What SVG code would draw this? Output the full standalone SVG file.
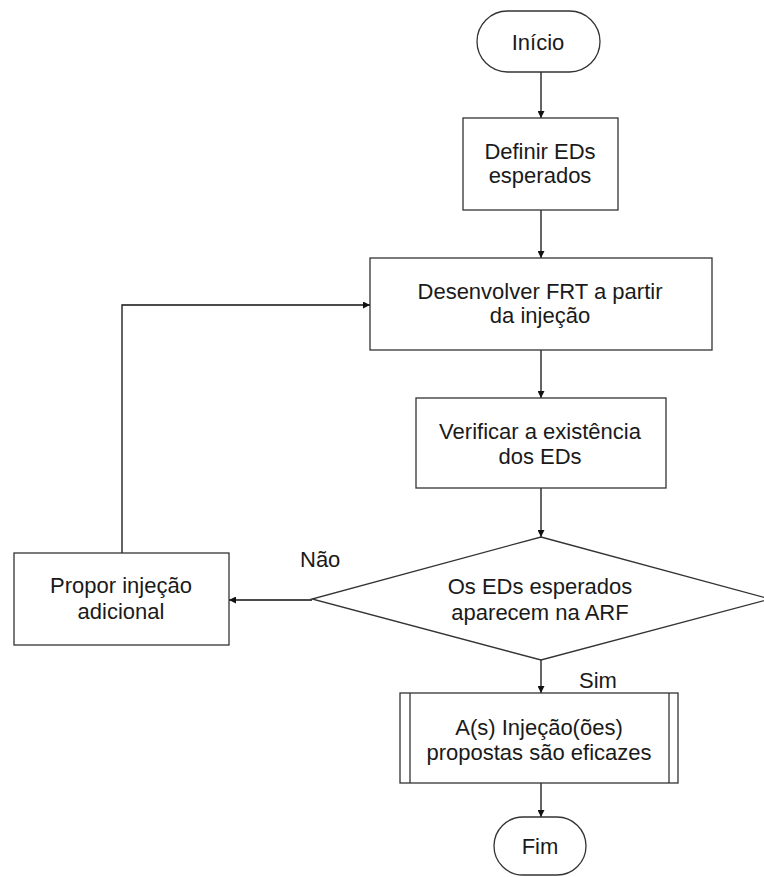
<svg xmlns="http://www.w3.org/2000/svg" width="764" height="877" viewBox="0 0 764 877">
  <defs>
    <marker id="arrow" viewBox="0 0 10 10" refX="10" refY="5" markerWidth="7" markerHeight="7" markerUnits="userSpaceOnUse" orient="auto">
      <path d="M0,0 L10,5 L0,10 z" fill="#111"/>
    </marker>
    <style>
      .shape { fill: #fff; stroke: #333; stroke-width: 1.3; }
      .edge { fill: none; stroke: #111; stroke-width: 1.3; marker-end: url(#arrow); }
      .label { font-family: "Liberation Sans", Arial, sans-serif; font-size: 22px; fill: #1a1a1a; text-anchor: middle; }
      .tag { font-family: "Liberation Sans", Arial, sans-serif; font-size: 22px; fill: #1a1a1a; }
    </style>
  </defs>

  <rect width="764" height="877" fill="#fff"/>

  <!-- connectors -->
  <g id="connectors">
    <line class="edge" x1="541" y1="72" x2="541" y2="118"/>
    <line class="edge" x1="541" y1="210" x2="541" y2="258"/>
    <line class="edge" x1="541" y1="350" x2="541" y2="398"/>
    <line class="edge" x1="541" y1="488" x2="541" y2="537"/>
    <line class="edge" x1="312" y1="600" x2="229" y2="600"/>
    <polyline class="edge" points="122,553 122,305 370,305"/>
    <line class="edge" x1="541" y1="660" x2="541" y2="693"/>
    <line class="edge" x1="541" y1="783" x2="541" y2="817"/>
    <text class="tag" x="300" y="567">Não</text>
    <text class="tag" x="579" y="688">Sim</text>
  </g>

  <g id="inicio">
    <rect class="shape" x="477" y="11" width="123" height="61" rx="30.5" ry="30.5"/>
    <text class="label" x="538" y="50">Início</text>
  </g>

  <g id="definir">
    <rect class="shape" x="463" y="118" width="155" height="92"/>
    <text class="label" x="540" y="159">Definir EDs</text>
    <text class="label" x="540" y="183">esperados</text>
  </g>

  <g id="desenvolver">
    <rect class="shape" x="370" y="258" width="342" height="92"/>
    <text class="label" x="540" y="299">Desenvolver FRT a partir</text>
    <text class="label" x="540" y="323">da injeção</text>
  </g>

  <g id="verificar">
    <rect class="shape" x="416" y="398" width="250" height="90"/>
    <text class="label" x="540" y="439">Verificar a existência</text>
    <text class="label" x="540" y="464">dos EDs</text>
  </g>

  <g id="decisao">
    <polygon class="shape" points="541,537 770,599 541,660 312,599"/>
    <text class="label" x="540" y="594">Os EDs esperados</text>
    <text class="label" x="540" y="620">aparecem na ARF</text>
  </g>

  <g id="propor">
    <rect class="shape" x="14" y="553" width="215" height="92"/>
    <text class="label" x="121" y="593">Propor injeção</text>
    <text class="label" x="121" y="619">adicional</text>
  </g>

  <g id="eficazes">
    <rect class="shape" x="400" y="693" width="278" height="90"/>
    <line class="shape" x1="410" y1="693" x2="410" y2="783"/>
    <line class="shape" x1="669" y1="693" x2="669" y2="783"/>
    <text class="label" x="539" y="735">A(s) Injeção(ões)</text>
    <text class="label" x="539" y="760">propostas são eficazes</text>
  </g>

  <g id="fim">
    <rect class="shape" x="494" y="817" width="92" height="58" rx="29" ry="29"/>
    <text class="label" x="540" y="854">Fim</text>
  </g>
</svg>
